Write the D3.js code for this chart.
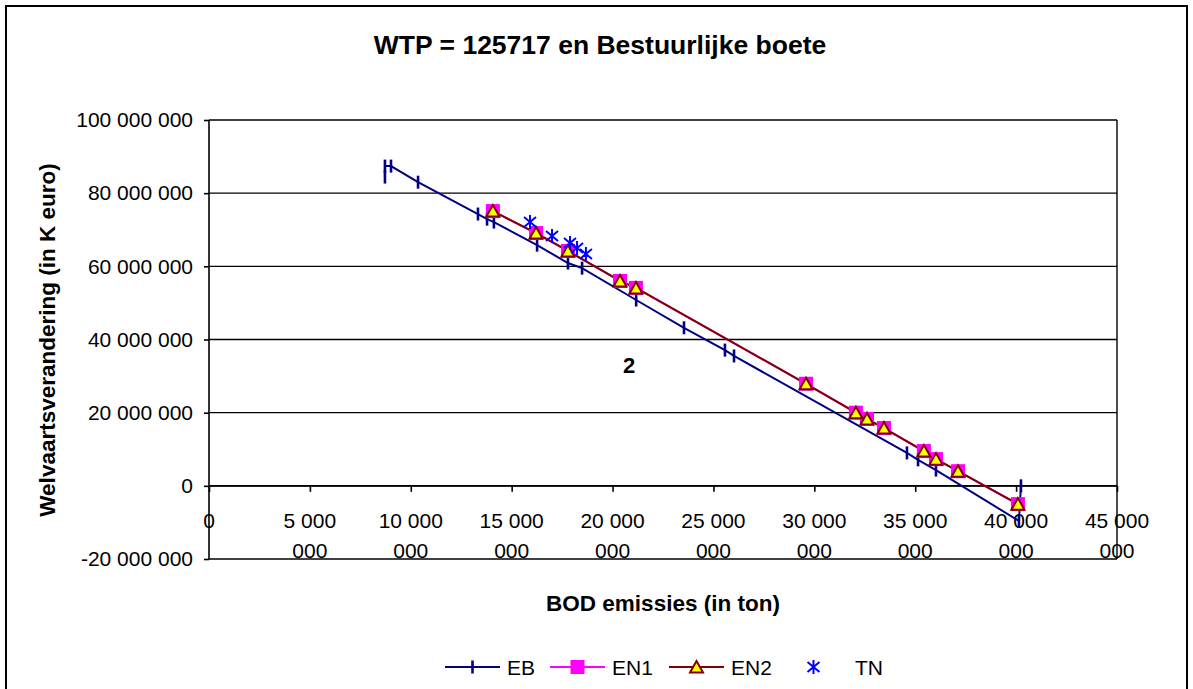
<!DOCTYPE html>
<html>

<head>
    <meta charset="utf-8">
    <title>WTP en Bestuurlijke boete</title>
    <script src="https://cdn.jsdelivr.net/npm/d3@7"></script>
    <style>
        body { margin: 0; background: #fff; }
        text { font-family: "Liberation Sans", Arial, sans-serif; }
    </style>
</head>

<body>
    <script>
        const width = 1193;
        const height = 689;

        // data (x = BOD emissies, y = welvaartsverandering)
        const ebX = [8.72e6, 8.72e6, 9.02e6, 10.36e6, 13.33e6, 13.78e6, 14.12e6, 16.26e6, 17.79e6, 18.49e6,
            21.17e6, 23.54e6, 25.57e6, 26.02e6, 34.59e6, 35.14e6, 36.03e6, 40.14e6, 40.24e6];
        const ebY = [84.4e6, 87.4e6, 87.4e6, 83.0e6, 74.3e6, 72.9e6, 72.1e6, 65.8e6, 60.9e6, 59.5e6,
            50.8e6, 43.2e6, 37.1e6, 35.5e6, 9.0e6, 7.1e6, 4.3e6, -9.6e6, 0];

        const enX = [14.07e6, 16.21e6, 17.79e6, 20.37e6, 21.16e6, 29.59e6, 32.06e6, 32.61e6, 33.45e6,
            35.43e6, 36.03e6, 37.12e6, 40.09e6];
        const en1Y = [75.1e6, 69.1e6, 64.2e6, 56.0e6, 54.1e6, 27.9e6, 20.0e6, 18.3e6, 15.8e6,
            9.5e6, 7.3e6, 4.0e6, -5.0e6];
        const en2Y = [75.1e6, 69.1e6, 64.2e6, 56.0e6, 54.1e6, 27.9e6, 20.0e6, 18.3e6, 15.8e6,
            9.5e6, 7.3e6, 4.0e6, -5.0e6];

        const tnX = [15.91e6, 17.0e6, 17.89e6, 18.24e6, 18.68e6];
        const tnY = [72.1e6, 68.3e6, 66.4e6, 65.0e6, 63.4e6];

        const xTicks = d3.range(0, 45e6 + 1, 5e6);
        const yTicks = d3.range(-20e6, 100e6 + 1, 20e6);
        const legendNames = ["EB", "EN1", "EN2", "TN"];

        const zip = (xs, ys) => xs.map((v, i) => [v, ys[i]]);
        const eb = zip(ebX, ebY);
        const en1 = zip(enX, en1Y);
        const en2 = zip(enX, en2Y);
        const tn = zip(tnX, tnY);

        const fmt = v => d3.format(",")(v).replace(/,/g, " ").replace("\u2212", "-");

        const x = d3.scaleLinear().domain([0, 45e6]).range([209, 1117]);
        const y = d3.scaleLinear().domain([-20e6, 100e6]).range([559, 120]);

        const svg = d3.select("body").append("svg")
            .attr("width", width).attr("height", height);

        // outer frame
        svg.append("rect")
            .attr("x", 6).attr("y", 6).attr("width", 1181).attr("height", 700)
            .attr("fill", "#fff").attr("stroke", "#000").attr("stroke-width", 2);

        svg.append("text")
            .attr("x", 600).attr("y", 54)
            .attr("text-anchor", "middle")
            .attr("font-size", 26.5).attr("font-weight", "bold")
            .text("WTP = 125717 en Bestuurlijke boete");

        // gridlines
        svg.append("g")
            .selectAll("line")
            .data(yTicks)
            .join("line")
            .attr("x1", x(0)).attr("x2", x(45e6))
            .attr("y1", d => y(d)).attr("y2", d => y(d))
            .attr("stroke", "#000").attr("stroke-width", 1.4);

        svg.append("line")
            .attr("x1", x(45e6)).attr("x2", x(45e6))
            .attr("y1", y(100e6)).attr("y2", y(-20e6))
            .attr("stroke", "#000").attr("stroke-width", 1.4);

        // y axis
        const gy = svg.append("g")
            .attr("transform", `translate(${x(0)},0)`)
            .call(d3.axisLeft(y).tickValues(yTicks).tickSize(5).tickPadding(11).tickFormat(fmt));
        gy.selectAll("path, line").attr("stroke", "#000").attr("stroke-width", 1.6);
        gy.select(".domain").attr("d", `M0,${y(100e6)}V${y(-20e6)}`);
        gy.selectAll("text").attr("font-size", 21).attr("fill", "#000")
            .attr("font-family", "'Liberation Sans', Arial, sans-serif");

        // x axis at y = 0, labels wrapped on two lines
        const gx = svg.append("g")
            .attr("transform", `translate(0,${y(0)})`)
            .call(d3.axisBottom(x).tickValues(xTicks).tickSize(6).tickFormat(""));
        gx.selectAll("path, line").attr("stroke", "#000").attr("stroke-width", 1.6);
        gx.select(".domain").attr("d", `M${x(0)},0H${x(45e6)}`);

        const xl = svg.append("g")
            .selectAll("text")
            .data(xTicks)
            .join("text")
            .attr("x", d => x(d))
            .attr("y", 528)
            .attr("text-anchor", "middle")
            .attr("font-size", 21);
        xl.each(function (d) {
            const s = fmt(d);
            const i = s.lastIndexOf(" ");
            const t = d3.select(this);
            if (i < 0) { t.text(s); return; }
            t.append("tspan").attr("x", x(d)).text(s.slice(0, i));
            t.append("tspan").attr("x", x(d)).attr("dy", 30).text(s.slice(i + 1));
        });

        // axis titles
        svg.append("text")
            .attr("x", 663).attr("y", 611)
            .attr("text-anchor", "middle")
            .attr("font-size", 22.5).attr("font-weight", "bold")
            .text("BOD emissies (in ton)");

        svg.append("text")
            .attr("transform", `translate(55,340) rotate(-90)`)
            .attr("text-anchor", "middle")
            .attr("font-size", 22.5).attr("font-weight", "bold")
            .text("Welvaartsverandering (in K euro)");

        svg.append("text")
            .attr("x", 629).attr("y", 373)
            .attr("text-anchor", "middle")
            .attr("font-size", 22).attr("font-weight", "bold")
            .text("2");

        // markers
        const bar = (g, cx, cy) => g.append("line")
            .attr("x1", cx).attr("x2", cx).attr("y1", cy - 6.5).attr("y2", cy + 6.5)
            .attr("stroke", "#000080").attr("stroke-width", 2.6);
        const square = (g, cx, cy) => g.append("rect")
            .attr("x", cx - 7).attr("y", cy - 7).attr("width", 14).attr("height", 14)
            .attr("fill", "#ff00ff");
        const tri = (g, cx, cy) => g.append("path")
            .attr("d", `M${cx},${cy - 6}L${cx + 6.5},${cy + 5.5}L${cx - 6.5},${cy + 5.5}Z`)
            .attr("fill", "#ffff00").attr("stroke", "#800000").attr("stroke-width", 2)
            .attr("stroke-linejoin", "miter");
        const star = (g, cx, cy) => g.append("path")
            .attr("d", `M${cx},${cy - 7}V${cy + 7}M${cx - 6},${cy - 5}L${cx + 6},${cy + 5}M${cx - 6},${cy + 5}L${cx + 6},${cy - 5}`)
            .attr("stroke", "#0000ff").attr("stroke-width", 2).attr("fill", "none");

        const line = d3.line().x(d => x(d[0])).y(d => y(d[1]));
        const plot = svg.append("g");

        plot.append("path").datum(eb).attr("d", line)
            .attr("fill", "none").attr("stroke", "#000080").attr("stroke-width", 2);
        eb.forEach(d => bar(plot, x(d[0]), y(d[1])));

        plot.append("path").datum(en1).attr("d", line)
            .attr("fill", "none").attr("stroke", "#ff00ff").attr("stroke-width", 2);
        plot.append("path").datum(en2).attr("d", line)
            .attr("fill", "none").attr("stroke", "#800000").attr("stroke-width", 2);
        en1.forEach(d => square(plot, x(d[0]), y(d[1])));
        en2.forEach(d => tri(plot, x(d[0]), y(d[1])));

        tn.forEach(d => star(plot, x(d[0]), y(d[1])));

        // legend
        const legendX = [445, 550, 669, 786];
        const ly = 667;
        const legendColors = ["#000080", "#ff00ff", "#800000", null];
        const markFns = [bar, square, tri, star];
        const lg = svg.append("g");
        legendNames.forEach((name, i) => {
            const x0 = legendX[i];
            if (legendColors[i]) {
                lg.append("line")
                    .attr("x1", x0).attr("x2", x0 + 55).attr("y1", ly).attr("y2", ly)
                    .attr("stroke", legendColors[i]).attr("stroke-width", 2);
            }
            markFns[i](lg, x0 + 27.5, ly);
            lg.append("text")
                .attr("x", i === 3 ? 855 : x0 + 62).attr("y", ly + 7.5)
                .attr("font-size", 21)
                .text(name);
        });
    </script>
</body>

</html>
